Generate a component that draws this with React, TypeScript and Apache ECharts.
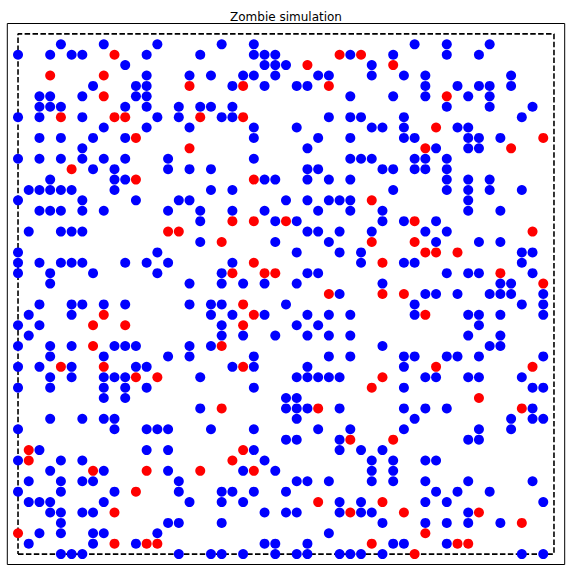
import React, { useEffect, useRef } from "react";
import * as echarts from "echarts";

// Grid positions, one array per row y = 0..49 (x values of occupied cells)
const humanRows: number[][] = [
  [4, 5, 6, 15, 18, 19, 21, 24, 26, 27, 30, 31, 32, 34, 47, 49],
  [1, 7, 11, 23, 24, 27, 35, 36, 40],
  [2, 4, 7, 8, 13, 29],
  [4, 14, 15, 19, 34, 38, 40, 42, 45],
  [3, 4, 6, 7, 23, 25, 26, 30, 32, 33, 42],
  [1, 2, 3, 8, 16, 19, 21, 30, 32, 38, 40, 49],
  [0, 4, 9, 15, 19, 20, 22, 25, 39, 41, 44],
  [1, 4, 6, 7, 15, 26, 27, 29, 33, 35, 38, 42, 48],
  [3, 8, 14, 21, 24, 33, 35],
  [0, 4, 6, 23, 33, 35, 38, 39],
  [2, 12, 14, 22, 30, 32, 34],
  [25, 26, 30, 42, 43],
  [0, 9, 12, 13, 14, 18, 22, 28, 31, 36, 43, 46],
  [3, 6, 8, 9, 26, 37, 46, 48, 49],
  [17, 25, 26, 27, 30, 36, 38, 40, 48],
  [8, 10, 25, 26],
  [0, 3, 8, 10, 12, 22, 36, 48, 49],
  [3, 5, 8, 9, 10, 17, 26, 27, 28, 29, 30, 38, 39, 42, 43, 47],
  [0, 2, 5, 11, 12, 20, 22, 27, 36],
  [3, 8, 14, 16, 22, 29, 31, 36, 37, 40, 41, 43, 49],
  [0, 3, 5, 9, 10, 11, 16, 18, 34, 44, 45],
  [1, 19, 21, 24, 27, 29, 31, 42, 45],
  [0, 2, 19, 26, 28, 43],
  [1, 5, 18, 20, 23, 27, 29, 31, 37, 42, 43, 45, 49],
  [2, 5, 6, 8, 10, 16, 18, 19, 25, 37, 47, 49],
  [30, 38, 39, 41, 44, 45, 46, 49],
  [3, 16, 19, 21, 23, 26, 34, 45, 46],
  [0, 3, 7, 13, 19, 27, 28, 40, 42, 43, 48],
  [0, 2, 4, 5, 6, 10, 12, 14, 20, 32, 36, 37, 47],
  [0, 13, 26, 30, 32, 47, 48],
  [17, 24, 29, 39, 43, 45],
  [1, 4, 5, 6, 27, 28, 30, 33, 38, 40],
  [17, 24, 26, 34, 36, 39],
  [2, 3, 4, 6, 8, 14, 17, 20, 23, 28, 31, 34, 42, 45],
  [0, 6, 11, 15, 16, 25, 27, 29, 30, 31, 42],
  [1, 2, 3, 4, 5, 9, 18, 20, 35, 40, 42, 44, 47],
  [3, 9, 10, 23, 24, 27, 29, 31, 40, 42, 44],
  [7, 9, 14, 16, 18, 27, 28, 34, 35, 37, 38, 40],
  [0, 2, 4, 6, 8, 10, 14, 22, 31, 32, 33, 37, 38, 40],
  [6, 27, 39, 42, 43],
  [2, 4, 7, 10, 22, 28, 31, 36, 37, 42, 43, 45],
  [8, 12, 16, 22, 26, 33, 34, 36, 41, 42],
  [0, 2, 6, 13, 15, 19, 20, 29, 31, 32, 36, 47],
  [2, 3, 4, 10, 12, 15, 17, 18, 20, 40, 44, 48],
  [2, 3, 6, 11, 12, 31, 35, 38, 42, 44],
  [7, 11, 12, 20, 23, 26, 27, 38, 41, 43, 44, 46],
  [12, 16, 18, 21, 22, 24, 28, 29, 33, 36, 38, 46],
  [10, 23, 24, 25, 33],
  [0, 3, 5, 6, 12, 17, 22, 23, 24, 31, 35, 40, 43],
  [4, 8, 13, 19, 22, 37, 40, 44],
];

const zombieRows: number[][] = [
  [37],
  [9, 12, 13, 33, 41, 42],
  [0, 38],
  [47],
  [9, 31, 36, 43],
  [28, 34],
  [11],
  [],
  [7, 12, 17, 22],
  [1, 20],
  [1, 21],
  [31, 35],
  [],
  [],
  [19, 28, 47],
  [43],
  [33],
  [11, 13, 34],
  [4, 8, 21, 39, 48],
  [],
  [7, 19],
  [],
  [7, 10, 21],
  [8, 22, 38],
  [21],
  [29, 34, 36],
  [49],
  [20, 23, 24, 45],
  [22, 34],
  [38, 39, 41],
  [19, 33, 37],
  [14, 15, 48],
  [20, 22, 25, 37],
  [],
  [33],
  [],
  [11, 22],
  [5],
  [],
  [16, 38, 46],
  [11, 49],
  [39],
  [4, 9, 10, 17, 21],
  [],
  [8, 40],
  [16, 21, 29],
  [3, 8],
  [27, 35],
  [9, 30, 32],
  [],
];

const boundaryX = [0, 50, 50, 0, 0];
const boundaryY = [0, 0, 50, 50, 0];
const titleText = "Zombie simulation";

const toPoints = (rows: number[][]) =>
  rows.flatMap((xs, y) => xs.map((x) => [x, y]));

export default function App() {
  const ref = useRef<HTMLDivElement>(null);
  useEffect(() => {
    if (!ref.current) return;
    const chart = echarts.init(ref.current, undefined, { renderer: "svg" });
    chart.setOption({
      animation: false,
      backgroundColor: "#ffffff",
      title: {
        text: titleText,
        left: "center",
        top: 6,
        textStyle: {
          fontFamily: "DejaVu Sans",
          fontSize: 12,
          fontWeight: "normal",
          color: "#000",
        },
      },
      grid: {
        left: 7.3,
        top: 23.5,
        width: 557.4,
        height: 541,
        show: true,
        borderColor: "#000",
        borderWidth: 1,
        backgroundColor: "transparent",
      },
      xAxis: {
        type: "value",
        min: -1,
        max: 51,
        axisLine: { show: false },
        axisTick: { show: false },
        axisLabel: { show: false },
        splitLine: { show: false },
      },
      yAxis: {
        type: "value",
        min: -1,
        max: 51,
        axisLine: { show: false },
        axisTick: { show: false },
        axisLabel: { show: false },
        splitLine: { show: false },
      },
      series: [
        {
          type: "line",
          data: boundaryX.map((x, i) => [x, boundaryY[i]]),
          showSymbol: false,
          symbol: "none",
          lineStyle: { color: "#000", width: 1.6, type: [5.5, 2.4], opacity: 1 },
          z: 1,
          silent: true,
        },
        {
          type: "scatter",
          data: toPoints(humanRows),
          symbol: "circle",
          symbolSize: 10,
          itemStyle: { color: "#0000ff", opacity: 1 },
          z: 2,
        },
        {
          type: "scatter",
          data: toPoints(zombieRows),
          symbol: "circle",
          symbolSize: 10,
          itemStyle: { color: "#ff0000", opacity: 1 },
          z: 3,
        },
      ],
    });
    return () => chart.dispose();
  }, []);
  return (
    <div
      ref={ref}
      style={{ position: "fixed", left: 0, top: 0, width: 572, height: 574 }}
    />
  );
}
